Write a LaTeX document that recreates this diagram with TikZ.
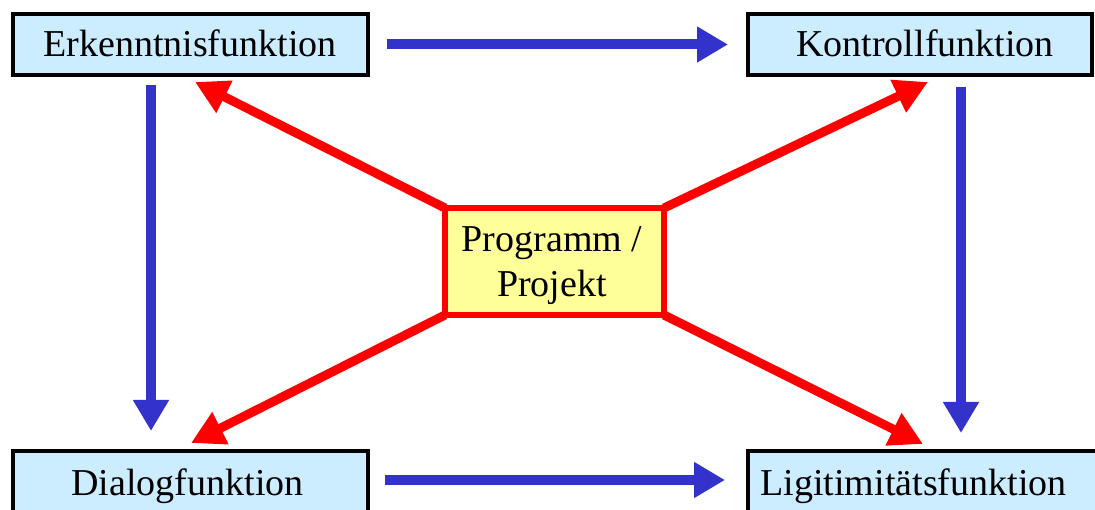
\documentclass[tikz,border=0pt]{standalone}
\usepackage{fontspec}
\setmainfont{Liberation Serif}
\usetikzlibrary{arrows.meta,calc}
\definecolor{boxblue}{RGB}{204,236,255}
\definecolor{progyellow}{RGB}{255,255,153}
\definecolor{arrblue}{RGB}{51,51,204}
\definecolor{arrred}{RGB}{255,0,0}
\begin{document}
\begin{tikzpicture}[x=1pt,y=-1pt,
  funcbox/.style={draw=black, line width=3.5pt, fill=boxblue, minimum height=61pt, inner sep=0pt, outer sep=0pt},
  lbl/.style={font=\fontsize{38}{45}\selectfont, anchor=base, inner sep=0pt},
  bluearrow/.style={draw=arrblue, line width=10pt, -{Triangle[length=31pt,width=34pt]}},
  redarrow/.style={draw=arrred, line width=9pt, -{Triangle[length=33pt,width=34pt]}},
  progbox/.style={draw=arrred, line width=6.5pt, fill=progyellow, minimum width=219pt, minimum height=107pt, inner sep=0pt, outer sep=0pt}]
\useasboundingbox (0,0) rectangle (1095,510);
% boxes
\node[funcbox, minimum width=355pt] (erk) at (190.5,44.5) {};
\node[funcbox, minimum width=344pt] (kon) at (920,44.5) {};
\node[funcbox, minimum width=355pt] (dia) at (190.5,481.5) {};
\node[funcbox, minimum width=372pt] (lig) at (934,481.5) {};
\node[lbl] (erkt) at (190,57) {Erkenntnisfunktion};
\node[lbl] (kont) at (925,57) {Kontrollfunktion};
\node[lbl] (diat) at (187.5,495) {Dialogfunktion};
\node[lbl] (ligt) at (913.5,495) {Ligitimitätsfunktion};
% blue arrows
\draw[bluearrow] ($(erk.east)+(19,0)$) -- ($(kon.west)+(-20,0)$);
\draw[bluearrow] ($(erk.south)+(-39.5,10)$) -- ($(dia.north)+(-39.5,-20)$);
\draw[bluearrow] ($(kon.south)+(41,12)$) -- ($(lig.north)+(27,-18)$);
\draw[bluearrow] ($(dia.east)+(17,-1.5)$) -- ($(lig.west)+(-23,-1.5)$);
% center
\coordinate (pnw) at (445,208);
\coordinate (pne) at (664,208);
\coordinate (psw) at (445,315);
\coordinate (pse) at (664,315);
\draw[redarrow] (pnw) -- ($(erk.south)+(4.5,7)$);
\draw[redarrow] (pne) -- ($(kon.south)+(8,7)$);
\draw[redarrow] (psw) -- ($(dia.north)+(0.5,-8)$);
\draw[redarrow] (pse) -- ($(lig.north)+(-11,-7)$);
\node[progbox] (prog) at (554.5,261.5) {};
\node[font=\fontsize{38}{45}\selectfont, align=center, inner sep=0pt] (progt) at (552,266) {Programm /\\Projekt};
\end{tikzpicture}
\end{document}
